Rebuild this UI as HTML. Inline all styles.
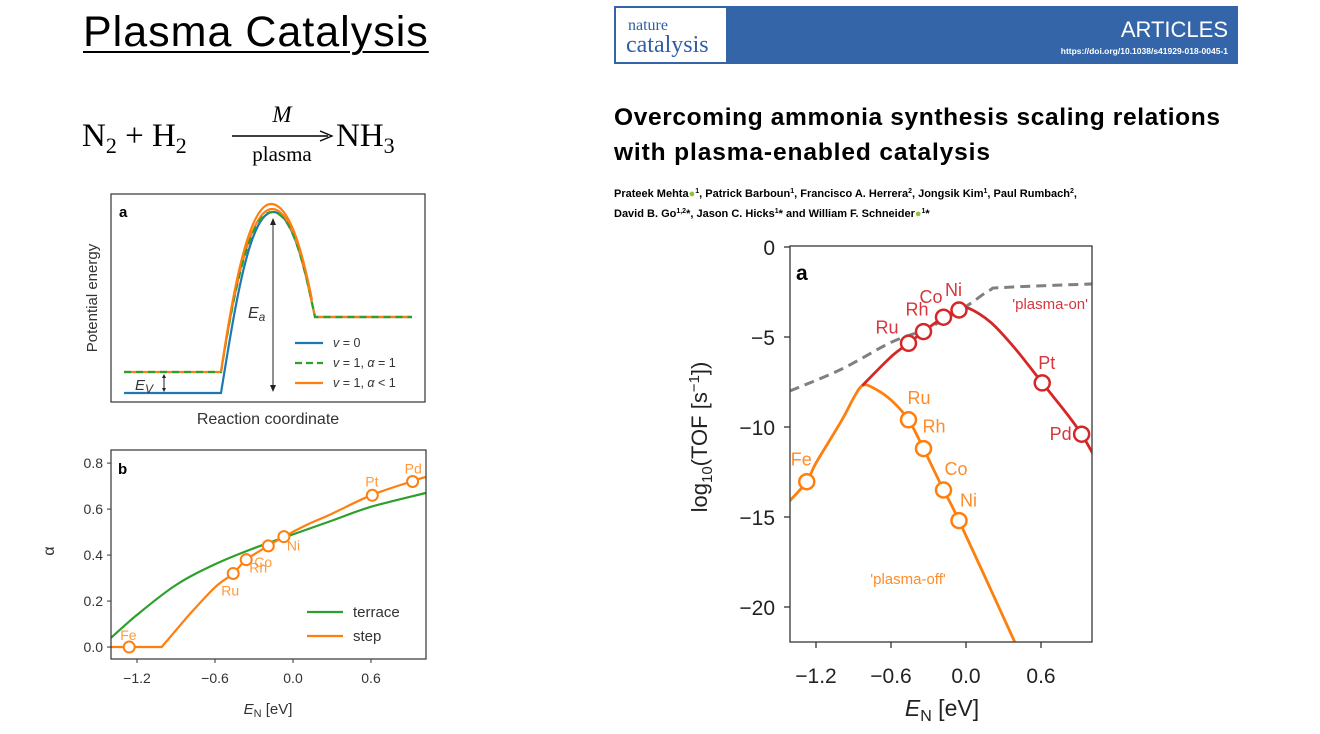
<!DOCTYPE html>
<html><head><meta charset="utf-8"><style>
body{margin:0;width:1320px;height:734px;background:#fff;overflow:hidden;position:relative;font-family:"Liberation Sans",sans-serif}
.abs{position:absolute}
</style></head><body>
<div class="abs" style="left:83px;top:8px;font-size:43px;letter-spacing:1px;text-decoration:underline;text-underline-offset:5px;text-decoration-thickness:2px">Plasma Catalysis</div>
<svg class="abs" style="left:0;top:0" width="1320" height="734">
<g font-family="Liberation Serif, serif">
<text x="82" y="146" font-size="33">N<tspan font-size="22" dy="7">2</tspan><tspan dy="-7"> + H</tspan><tspan font-size="22" dy="7">2</tspan></text>
<line x1="232" y1="136" x2="328" y2="136" stroke="#000" stroke-width="1.5"/><path d="M320,131 L332,136 L320,141" fill="none" stroke="#000" stroke-width="1.3"/>
<text x="282" y="122" font-size="23" font-style="italic" text-anchor="middle">M</text>
<text x="282" y="161" font-size="21" text-anchor="middle">plasma</text>
<text x="336" y="146" font-size="33">NH<tspan font-size="22" dy="7">3</tspan></text>
</g>
<g>
<rect x="614" y="6" width="624" height="58" fill="#3465a8"/>
<rect x="616" y="8" width="110" height="54" fill="#fff"/>
<text x="628" y="30" font-family="Liberation Serif,serif" font-size="16" fill="#2f5fa5">nature</text>
<text x="626" y="52" font-family="Liberation Serif,serif" font-size="24" fill="#2f5fa5">catalysis</text>
<text x="1228" y="37" font-size="22" fill="#fff" text-anchor="end">ARTICLES</text>
<text x="1228" y="54" font-size="8.5" font-weight="bold" fill="#fff" text-anchor="end">https://doi.org/10.1038/s41929-018-0045-1</text>
</g>
<text x="614" y="125" font-size="24.5" font-weight="bold" textLength="606">Overcoming ammonia synthesis scaling relations</text>
<text x="614" y="160" font-size="24.5" font-weight="bold" textLength="376">with plasma-enabled catalysis</text>
<g font-size="11" font-weight="bold">
<text x="614" y="197">Prateek Mehta<tspan fill="#8bc43f">●</tspan><tspan font-size="7" dy="-4">1</tspan><tspan dy="4">, Patrick Barboun</tspan><tspan font-size="7" dy="-4">1</tspan><tspan dy="4">, Francisco A. Herrera</tspan><tspan font-size="7" dy="-4">2</tspan><tspan dy="4">, Jongsik Kim</tspan><tspan font-size="7" dy="-4">1</tspan><tspan dy="4">, Paul Rumbach</tspan><tspan font-size="7" dy="-4">2</tspan><tspan dy="4">,</tspan></text>
<text x="614" y="217">David B. Go<tspan font-size="7" dy="-4">1,2</tspan><tspan dy="4">*, Jason C. Hicks</tspan><tspan font-size="7" dy="-4">1</tspan><tspan dy="4">* and William F. Schneider</tspan><tspan fill="#8bc43f">●</tspan><tspan font-size="7" dy="-4">1</tspan><tspan dy="4">*</tspan></text>
</g>

<g>
<rect x="111" y="194" width="314" height="208" fill="none" stroke="#333" stroke-width="1.2"/>
<text x="119" y="217" font-size="15" font-weight="bold">a</text>
<path d="M124,393 L221,393 C236,300 250,212 273,212 C293,212 305,270 315,317 L412,317" fill="none" stroke="#1f77b4" stroke-width="2.2"/>
<path d="M124,372 L221,372 C234,290 250,209 272,209 C293,209 305,270 315,317 L412,317" fill="none" stroke="#ff7f0e" stroke-width="2.2"/>
<path d="M124,372 L221,372 C234,290 250,212 272,212 C293,212 305,270 315,317 L412,317" fill="none" stroke="#2ca02c" stroke-width="2.2" stroke-dasharray="7,5"/>
<path d="M221,372 C233,290 249,204 271,204 C291,204 304,260 312,300" fill="none" stroke="#ff7f0e" stroke-width="2.2"/>
<line x1="273" y1="220" x2="273" y2="390" stroke="#222" stroke-width="1"/><path d="M270,225 L273,218 L276,225 M270,385 L273,392 L276,385" fill="#222"/>
<line x1="164" y1="375" x2="164" y2="391" stroke="#222"/><path d="M162,378 L164,374 L166,378 M162,388 L164,392 L166,388" fill="#222"/>
<text x="248" y="318" font-size="16" font-style="italic" fill="#333">E<tspan font-size="12" dy="3">a</tspan></text>
<text x="135" y="390" font-size="15" font-style="italic" fill="#333">E<tspan font-size="12" dy="3">V</tspan></text>
<line x1="295" y1="343" x2="323" y2="343" stroke="#1f77b4" stroke-width="2.2"/><text x="333" y="347" font-size="12.5" fill="#333" font-style="italic">v<tspan font-style="normal"> = 0</tspan></text>
<line x1="295" y1="363" x2="323" y2="363" stroke="#2ca02c" stroke-width="2.2" stroke-dasharray="7,4"/><text x="333" y="367" font-size="12.5" fill="#333" font-style="italic">v<tspan font-style="normal"> = 1, </tspan>α<tspan font-style="normal"> = 1</tspan></text>
<line x1="295" y1="383" x2="323" y2="383" stroke="#ff7f0e" stroke-width="2.2"/><text x="333" y="387" font-size="12.5" fill="#333" font-style="italic">v<tspan font-style="normal"> = 1, </tspan>α<tspan font-style="normal"> &lt; 1</tspan></text>
<text x="268" y="424" font-size="16" fill="#333" text-anchor="middle">Reaction coordinate</text>
<text transform="translate(97,298) rotate(-90)" font-size="15" fill="#333" text-anchor="middle">Potential energy</text>
</g>
<g id="chartB"></g>
<g id="chartA"></g>
</svg>
<script>
const NS='http://www.w3.org/2000/svg';
function mk(p,t,a,txt){const e=document.createElementNS(NS,t);for(const k in a)e.setAttribute(k,a[k]);if(txt!==undefined)e.textContent=txt;p.appendChild(e);return e;}
// ---- Chart b data ----
const bTerraceX=[-1.4,-1.2,-0.9,-0.6,-0.3,0,0.3,0.6,1.02];
const bTerraceY=[0.04,0.14,0.27,0.36,0.43,0.49,0.55,0.61,0.67];
const bStepX=[-1.4,-1.01,-0.8,-0.6,-0.46,-0.36,-0.19,-0.07,0.1,0.3,0.6,0.91,1.02];
const bStepY=[0,0,0.14,0.26,0.32,0.38,0.44,0.48,0.53,0.58,0.66,0.72,0.74];
const bMetals=['Fe','Ru','Rh','Co','Ni','Pt','Pd'];
const bMetalX=[-1.26,-0.46,-0.36,-0.19,-0.07,0.61,0.92];
const bMetalY=[0,0.32,0.38,0.44,0.48,0.66,0.72];
const bXTicks=[-1.2,-0.6,0.0,0.6];
const bXTickLabels=['−1.2','−0.6','0.0','0.6'];
const bYTicks=[0,0.2,0.4,0.6,0.8];
const bYTickLabels=['0.0','0.2','0.4','0.6','0.8'];
// ---- Chart a data ----
const aOnX=[-0.83,-0.6,-0.46,-0.34,-0.18,-0.056,0.02,0.2,0.4,0.61,0.8,0.925,1.016];
const aOnY=[-7.7,-6.1,-5.35,-4.7,-3.9,-3.5,-3.4,-4.2,-5.7,-7.55,-9.2,-10.4,-11.5];
const aOffX=[-1.41,-1.274,-1.2,-1.0,-0.9,-0.83,-0.75,-0.6,-0.46,-0.34,-0.18,-0.056,0.39];
const aOffY=[-14.1,-13.04,-12.0,-9.7,-8.4,-7.7,-7.8,-8.5,-9.6,-11.2,-13.5,-15.2,-21.95];
const aLimX=[-1.41,-1.0,-0.6,-0.3,0.0,0.19,0.3,1.016];
const aLimY=[-8.0,-6.8,-5.3,-4.5,-3.3,-2.4,-2.25,-2.05];
const aOnMetals=['Ru','Rh','Co','Ni','Pt','Pd'];
const aOnMetalX=[-0.46,-0.34,-0.18,-0.056,0.61,0.925];
const aOnMetalY=[-5.35,-4.7,-3.9,-3.5,-7.55,-10.4];
const aOffMetals=['Fe','Ru','Rh','Co','Ni'];
const aOffMetalX=[-1.274,-0.46,-0.34,-0.18,-0.056];
const aOffMetalY=[-13.04,-9.6,-11.2,-13.5,-15.2];
const aXTicks=[-1.2,-0.6,0.0,0.6];
const aXTickLabels=['−1.2','−0.6','0.0','0.6'];
const aYTicks=[0,-5,-10,-15,-20];
const aYTickLabels=['0','−5','−10','−15','−20'];

function path(xs,ys,sx,sy){
 const P=xs.map((x,i)=>[sx(x),sy(ys[i])]);
 let d='M'+P[0][0].toFixed(1)+','+P[0][1].toFixed(1);
 for(let i=0;i<P.length-1;i++){
  const p0=P[Math.max(0,i-1)],p1=P[i],p2=P[i+1],p3=P[Math.min(P.length-1,i+2)];
  const c1=[p1[0]+(p2[0]-p0[0])/6,p1[1]+(p2[1]-p0[1])/6];
  const c2=[p2[0]-(p3[0]-p1[0])/6,p2[1]-(p3[1]-p1[1])/6];
  d+=' C'+c1.map(v=>v.toFixed(1)).join(',')+' '+c2.map(v=>v.toFixed(1)).join(',')+' '+p2.map(v=>v.toFixed(1)).join(',');
 }
 return d;
}
function lin(xs,ys,sx,sy){return xs.map((x,i)=>(i?'L':'M')+sx(x).toFixed(1)+','+sy(ys[i]).toFixed(1)).join(' ');}

(function(){
const g=document.getElementById('chartB');
const L=111,R=426,T=450,B=659;
const sx=x=>L+(x+1.4)/(2.423)*(R-L);
const sy=y=>B-(y+0.052)/(0.909)*(B-T);
const cp=mk(g,'clipPath',{id:'cb'});mk(cp,'rect',{x:L,y:T,width:R-L,height:B-T});
let e=mk(g,'path',{d:path(bTerraceX,bTerraceY,sx,sy),fill:'none',stroke:'#2ca02c','stroke-width':2.2,'clip-path':'url(#cb)'});


e=mk(g,'path',{d:lin(bStepX.slice(0,3),bStepY.slice(0,3),sx,sy)+' '+path(bStepX.slice(2),bStepY.slice(2),sx,sy).replace('M','L'),fill:'none',stroke:'#ff7f0e','stroke-width':2.2,'clip-path':'url(#cb)'});


const offs={Fe:[-9,-7],Ru:[-12,22],Rh:[3,13],Co:[-14,21],Ni:[3,14],Pt:[-7,-9],Pd:[-8,-8]};
bMetals.forEach((m,i)=>{
 const c=mk(g,'circle',{cx:sx(bMetalX[i]),cy:sy(bMetalY[i]),r:5.5,fill:'#fff',stroke:'#ff7f0e','stroke-width':2});
 
 
 const o=offs[m];
 mk(g,'text',{x:sx(bMetalX[i])+o[0],y:sy(bMetalY[i])+o[1],'font-size':14,fill:'#ff9a3c'},m);
});
mk(g,'rect',{x:L,y:T,width:R-L,height:B-T,fill:'none',stroke:'#333','stroke-width':1.2});
mk(g,'text',{x:118,y:474,'font-size':15,'font-weight':'bold'},'b');
bXTicks.forEach((t,i)=>{mk(g,'line',{x1:sx(t),x2:sx(t),y1:B,y2:B+4,stroke:'#333'});mk(g,'text',{x:sx(t),y:B+24,'font-size':14,fill:'#333','text-anchor':'middle'},bXTickLabels[i]);});
bYTicks.forEach((t,i)=>{mk(g,'line',{x1:L-4,x2:L,y1:sy(t),y2:sy(t),stroke:'#333'});mk(g,'text',{x:L-8,y:sy(t)+5,'font-size':14,fill:'#333','text-anchor':'end'},bYTickLabels[i]);});
const xl=mk(g,'text',{x:268,y:714,'font-size':15,fill:'#333','text-anchor':'middle'});xl.innerHTML='<tspan font-style="italic">E</tspan><tspan font-size="11" dy="3">N</tspan><tspan dy="-3"> [eV]</tspan>';
mk(g,'text',{x:0,y:0,'font-size':16,fill:'#333','text-anchor':'middle',transform:'translate(54,551) rotate(-90)'},'α');
mk(g,'line',{x1:307,x2:343,y1:612,y2:612,stroke:'#2ca02c','stroke-width':2.2});
mk(g,'text',{x:353,y:617,'font-size':15,fill:'#333'},'terrace');
mk(g,'line',{x1:307,x2:343,y1:636,y2:636,stroke:'#ff7f0e','stroke-width':2.2});
mk(g,'text',{x:353,y:641,'font-size':15,fill:'#333'},'step');
})();

(function(){
const g=document.getElementById('chartA');
const L=790,R=1092,T=246,B=642;
const sx=x=>966+x*125;
const sy=y=>247-y*18;
const cp=mk(g,'clipPath',{id:'ca'});mk(cp,'rect',{x:L,y:T,width:R-L,height:B-T});
let e=mk(g,'path',{d:path(aLimX,aLimY,sx,sy),fill:'none',stroke:'#808080','stroke-width':3,'stroke-dasharray':'10,6','clip-path':'url(#ca)'});


e=mk(g,'path',{d:path(aOffX,aOffY,sx,sy),fill:'none',stroke:'#ff7f0e','stroke-width':2.8,'clip-path':'url(#ca)'});


e=mk(g,'path',{d:path(aOnX,aOnY,sx,sy),fill:'none',stroke:'#d62728','stroke-width':2.8,'clip-path':'url(#ca)'});


const onOff={Ru:[-33,-10],Rh:[-18,-16],Co:[-24,-14],Ni:[-14,-14],Pt:[-4,-14],Pd:[-32,6]};
aOnMetals.forEach((m,i)=>{
 const c=mk(g,'circle',{cx:sx(aOnMetalX[i]),cy:sy(aOnMetalY[i]),r:7.5,fill:'#fff',stroke:'#d62728','stroke-width':2.5});
 
 
 const o=onOff[m];
 mk(g,'text',{x:sx(aOnMetalX[i])+o[0],y:sy(aOnMetalY[i])+o[1],'font-size':18,fill:'#d6363c'},m);
});
const offOff={Fe:[-16,-16],Ru:[-1,-16],Rh:[-1,-16],Co:[1,-15],Ni:[1,-14]};
aOffMetals.forEach((m,i)=>{
 const c=mk(g,'circle',{cx:sx(aOffMetalX[i]),cy:sy(aOffMetalY[i]),r:7.5,fill:'#fff',stroke:'#ff7f0e','stroke-width':2.5});
 
 
 const o=offOff[m];
 mk(g,'text',{x:sx(aOffMetalX[i])+o[0],y:sy(aOffMetalY[i])+o[1],'font-size':18,fill:'#ff8c2a'},m);
});
mk(g,'text',{x:1088,y:309,'font-size':15,fill:'#d6363c','text-anchor':'end'},"'plasma-on'");
mk(g,'text',{x:908,y:584,'font-size':15,fill:'#ff8c2a','text-anchor':'middle'},"'plasma-off'");
mk(g,'rect',{x:L,y:T,width:R-L,height:B-T,fill:'none',stroke:'#444','stroke-width':1.4});
mk(g,'text',{x:796,y:280,'font-size':21,'font-weight':'bold'},'a');
aXTicks.forEach((t,i)=>{mk(g,'line',{x1:sx(t),x2:sx(t),y1:B,y2:B+6,stroke:'#333','stroke-width':1.3});mk(g,'text',{x:sx(t),y:B+41,'font-size':21,fill:'#222','text-anchor':'middle'},aXTickLabels[i]);});
aYTicks.forEach((t,i)=>{mk(g,'line',{x1:L-6,x2:L,y1:sy(t),y2:sy(t),stroke:'#333','stroke-width':1.3});mk(g,'text',{x:L-15,y:sy(t)+8,'font-size':21,fill:'#222','text-anchor':'end'},aYTickLabels[i]);});
const xl=mk(g,'text',{x:942,y:716,'font-size':23,fill:'#222','text-anchor':'middle'});xl.innerHTML='<tspan font-style="italic">E</tspan><tspan font-size="16" dy="5">N</tspan><tspan dy="-5"> [eV]</tspan>';
const yl=mk(g,'text',{x:0,y:0,'font-size':22,fill:'#222','text-anchor':'middle',transform:'translate(707,437) rotate(-90)'});yl.innerHTML='log<tspan font-size="15" dy="5">10</tspan><tspan dy="-5">(TOF [s</tspan><tspan font-size="15" dy="-8">−1</tspan><tspan dy="8">])</tspan>';
})();
</script>
</body></html>
